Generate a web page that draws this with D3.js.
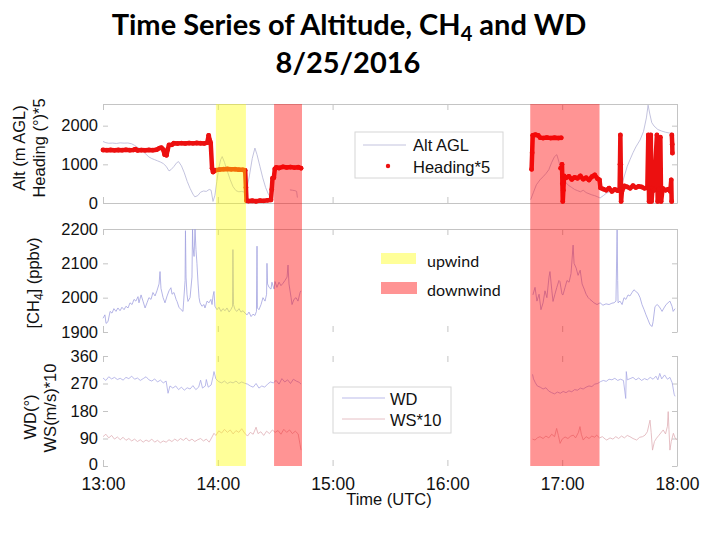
<!DOCTYPE html>
<html>
<head>
<meta charset="utf-8">
<script src="https://cdn.jsdelivr.net/npm/d3@7"></script>
<style>
	body { margin: 0; background: #fff; }
	svg { display: block; font-family: "Liberation Sans", Arial, sans-serif; }
</style>
</head>
<body>
<div id="chart-area"></div>
<script>
// times are minutes after 13:00 UTC
const hourTicks = [0, 60, 120, 180, 240, 300];
const hourLabels = ["13:00", "14:00", "15:00", "16:00", "17:00", "18:00"];
const altTicks = [0, 1000, 2000];
const ch4Ticks = [1900, 2000, 2100, 2200];
const windTicks = [0, 90, 180, 270, 360];

const upwind = [[59, 74.7]];
const downwind = [[89.4, 104], [223.3, 259.5]];

// null = gap in the record
const altAgl = [
	[0,1590],[1.5,1560],[3,1545],[5,1550],[7,1540],[9,1555],[11,1548],[13,1552],[15,1530],[16.5,1490],[18,1440],[19.5,1400],
	[21,1330],[22.5,1260],[24,1190],[25.5,1150],[27,1120],[28.5,1090],[30,1060],[31.5,1020],[33,950],[34.5,830],[35.5,860],
	[37,940],[38.5,1040],[39.5,1070],[41,960],[42.5,780],[44,560],[45.5,380],[47,230],[48,160],[49.5,190],[51,280],[52.5,310],
	[54,300],[55.5,350],[56.5,330],[57.5,40],[58.5,200],[59.5,560],[60.5,900],[61.5,1120],[62.3,1200],[63.5,1050],[65,820],
	[66.5,600],[68,420],[69.5,320],[71,290],[72.5,300],[74,280],[75,320],[76.5,700],[78,1150],[79.4,1420],[80.5,1250],[82,950],
	[83.5,650],[85,400],[86.5,220],[87.3,170], null,
	[97.7,340],[99,330],[100.3,320],[101.2,300],[101.6,140], null,
	[223.5,85],[225,280],[226.5,470],[228.4,600],[230,680],[231.5,760],[233,860],[234.5,1050],[236,1200],[237.2,1250],[238.2,1080],
	[239.2,900],[240.5,730],[242,520],[243.5,450],[245,400],[246.5,350],[248,320],[249.5,290],[251,330],[252.5,270],[254,240],
	[255.5,210],[257,190],[258.5,160],[259.8,130],[261.5,190],[263,250],[265,300],[267,360],[269,400],[271,440],[272.5,700],
	[274,950],[275.4,1116],[277,1300],[278.5,1450],[280.7,1630],[282.5,1850],[284,2200],[284.9,2530],[285.8,2300],[286.8,2080],
	[288,1990],[290,1900],[292,1860],[294,1830],[296,1810],[297.5,1800]
];

const heading = [
	[0,1370],[2,1365],[4,1372],[6,1362],[8,1370],[10,1365],[12,1374],[14,1366],[16,1372],[17,1392],[18,1360],[20,1368],[22,1362],
	[24,1372],[26,1365],[28,1378],[29.5,1420],[30.5,1430],[31.5,1380],[32.2,1250],[33.2,1235],[33.8,1380],[34.5,1500],[36,1505],
	[37,1545],[39,1538],[41,1548],[43,1540],[45,1550],[47,1542],[49,1552],[51,1545],[53,1540],[54.5,1560],[55.2,1750],[55.8,1620],
	[56.3,1550],[57,900],[57.5,800],[59,850],[61,865],[63,875],[65,880],[67,870],[69,875],[71,862],[73,858],[74.3,845],[74.7,400],
	[75,60],[76,50],[78,58],[80,45],[82,62],[84,55],[86,70],[87.8,80],[88.2,350],[88.6,640],[89.3,650],[89.8,880],[90.5,920],
	[92,905],[94,935],[96,920],[98,930],[100,915],[102,925],[103.5,900], null,
	[224,870],[224.3,1300],[224.6,1750],[226,1765],[227.5,1745],[228.5,1690],[230,1680],[232,1692],[234,1678],[236,1688],[238,1680],
	[239.5,1685], null,
	[239.2,900], null,
	[239.9,1000],[240.1,500],[240.3,40],[240.6,330],[241,700],[242,650],[243.5,690],[245,610],[246.5,665],[248,640],[249.5,700],
	[251,615],[252.5,655],[254,595],[255.5,680],[257,725],[258.5,625],[259.5,600],[260,390],[261.5,360],[263,330],[264.5,385],
	[266,300],[267.5,350],[269,320],[270,340],[270.2,1000],[270.4,1760],[270.6,1000],[270.8,40],[271.2,300],[272.5,440],[274,415],
	[275.5,380],[277,450],[278.5,400],[280,430],[281.5,415],[283,380],[284.5,400],[285,1760],[285.4,40],[285.8,400],[286.3,1760],
	[286.7,40],[287.2,380],[288,330],[289.5,1760],[289.9,40],[290.5,360],[291.3,1700],[291.7,40],[292.5,380],[294,330],[295.5,360],
	[296.5,300],[297,600],[297.2,40], null,
	[297.3,1760],[297.5,1520],[297.6,1290]
];

const ch4 = [
	[0,1940],[1,1950],[1.6,1925],[2.6,1930],[3.7,1960],[4.7,1955],[5.7,1968],[6.8,1960],[7.8,1970],[8.9,1962],[9.9,1972],[11,1965],
	[12,1975],[13.1,1970],[14.1,1985],[15.2,1980],[16.2,1995],[17.2,1990],[18.3,2003],[18.8,1985],[19.9,2008],[20.9,1990],[22,1970],
	[23,1985],[24,2000],[25.1,1995],[26.1,2015],[27.2,2005],[28.2,2020],[29.3,2040],[29.8,2076],[30.3,2027],[31.4,2000],[32.4,1985],
	[33.5,2005],[34.5,2020],[35.5,2029],[36.1,2010],[37.1,2015],[38.2,1995],[38.7,1989],[39.7,1972],[40.8,1965],[41.8,1960],
	[42.9,2050],[43.1,2195],[43.4,2060],[43.9,2010],[44.4,1989],[45.5,2000],[46.5,2060],[46.8,2200],[47,2150],[47.6,2120],[48.1,2200],
	[48.6,2140],[49.1,2100],[49.7,2040],[50.2,2000],[50.7,1985],[51.7,1975],[52.8,1980],[53.3,1970],[54.4,1990],[55.4,1985],
	[56.4,1995],[57,1980],[57.5,2005],[58,2018],[58.5,1975],[59.6,1965],[60.6,1972],[61.7,1960],[62.7,1968],[63.8,1962],[64.8,1970],
	[65.9,1958],[66.9,1966],[67.7,1975],[67.9,2140],[68.2,1980],[69,1965],[70,1960],[71.1,1968],[72.1,1958],[73.2,1962],[74.2,1955],
	[75.3,1950],[76.3,1958],[77.4,1945],[78.4,1952],[79.4,1948],[80.2,1960],[80.5,2150],[80.7,1970],[81.5,1965],[82.6,1980],
	[83.6,2000],[84.7,1990],[85.5,2010],[85.7,2100],[86,2040],[86.8,2030],[87.8,2025],[88.3,2045],[89.4,2025],[89.9,2047],[90.9,2030],
	[92,2045],[93,2035],[94.1,2042],[95.1,2050],[96.2,2060],[96.7,2095],[97.2,2040],[98.3,2000],[98.8,1980],[99.8,1995],[100.9,2000],
	[101.9,1990],[103,2015],[103.5,2020], null,
	[224.7,2008],[225.8,2030],[226.8,1990],[227.9,2010],[228.9,1965],[230,1985],[231,2020],[232,2000],[233.1,2060],[233.6,2076],
	[234.6,2020],[235.2,1989],[236.2,2010],[237.2,2030],[238.3,2050],[238.8,2047],[239.9,2010],[240.4,2008],[241.5,2030],[242.5,2050],
	[243.6,2045],[244.6,2070],[245.7,2153],[246.2,2100],[247.3,2086],[248.3,2065],[249.4,2080],[250.4,2040],[251.5,2025],[252.5,2010],
	[253.6,2000],[254.5,1995],[255.6,1990],[256.6,1985],[258.2,1980],[259.8,1985],[261.3,1978],[262.9,1982],[264.5,1980],[266,1984],
	[267.1,1985],[268.1,1990],[268.7,2197],[269,2050],[269.2,1985],[270.2,1990],[271.3,1980],[272.3,2000],[273.3,1995],[274.4,2008],
	[275.4,2005],[276.5,2015],[277.5,2023],[278.5,2018],[279.6,2013],[280.7,2000],[281.7,1980],[282.8,1965],[283.8,1950],[284.9,1935],
	[285.9,1921],[287,1916],[287.5,1930],[288.5,1974],[289.6,1980],[290.6,1975],[291.7,1965],[292.2,1960],[293.2,1970],[294.3,1980],
	[295.3,1985],[296.3,1990],[297.4,1975],[298,1960],[299,1968]
];

const wd = [
	[0,288],[1.5,280],[3,292],[4.5,285],[6,290],[7.5,283],[9,287],[10.5,281],[12,290],[13.5,286],[15,294],[16.5,284],[18,288],
	[19.5,280],[21,286],[22.5,292],[24,282],[25.5,278],[27,285],[28.5,275],[30,281],[31.5,272],[33,278],[34,238],[35,262],[36.5,255],
	[38,262],[39.5,250],[41,258],[42.5,248],[44,256],[45.5,252],[47,263],[48.5,250],[50,258],[51,281],[52,255],[53.5,262],[54,283],
	[55,258],[56.5,265],[57.5,292],[58,309],[59,285],[60.5,276],[62,272],[63.5,278],[65,270],[66.5,275],[68,272],[69.5,278],[71,270],
	[72.5,275],[74,271],[75.5,268],[77,262],[78.5,258],[80,270],[81.5,255],[83,262],[84.5,258],[86,268],[87.5,275],[89,272],
	[90.5,280],[92,268],[93.5,286],[95,275],[96.5,282],[98,270],[99.5,284],[101,278],[102.5,274],[103.5,268], null,
	[224.5,300],[225,285],[226,272],[227,262],[228.5,258],[230,252],[231.5,256],[233,245],[234.5,240],[236,236],[237.5,242],[239,238],
	[240.5,244],[242,240],[243.5,246],[245,243],[246.5,250],[248,248],[249.5,255],[251,252],[252.5,258],[254,262],[255.5,260],
	[257,268],[258.5,270],[260,276],[261.5,280],[263,277],[264.5,284],[266,282],[267.5,287],[269,280],[270.5,284],[272,280],
	[273.2,221],[273.5,309],[274,282],[275.5,286],[277,290],[278.5,282],[280,288],[281.5,280],[283,286],[284.5,282],[286,290],
	[287.5,284],[289,294],[290,282],[291,303],[292,285],[293.5,298],[295,284],[296.3,290],[297.5,272],[298.5,235],[299,228]
];

const ws = [
	[0,96],[1.5,104],[3,92],[4.5,100],[6,88],[7.5,95],[9,86],[10.5,94],[12,84],[13.5,90],[15,82],[16.5,88],[18,80],[19.5,86],[21,78],
	[22.5,85],[24,80],[25.5,88],[27,78],[28.5,84],[30,76],[31.5,82],[33,78],[34.5,86],[36,80],[37.5,88],[39,82],[40.5,90],[42,84],
	[43.5,92],[45,82],[46.5,88],[48,80],[49.5,86],[51,90],[52.5,82],[54,88],[55.5,78],[57,95],[58,107],[59,100],[60.5,115],[62,108],
	[63.5,120],[65,110],[66.5,118],[68,105],[69.5,116],[71,110],[72.5,122],[74,108],[75.5,98],[77,110],[78.5,104],[80,127],[81,106],
	[82.5,112],[84,100],[85.5,114],[87,106],[88.5,118],[90,110],[91.5,116],[93,104],[94.5,120],[96,110],[97.5,118],[99,106],
	[100.5,114],[102,105],[103,70],[103.5,52], null,
	[224.5,88],[225.8,85],[227,92],[228.4,96],[230,90],[231.5,98],[233,92],[234.5,104],[236,96],[237.1,123],[238,100],[238.9,74],
	[240,88],[241.5,95],[243,90],[244.5,98],[245.8,101],[247,92],[248.5,110],[249.3,129],[250,104],[251,85],[252.5,96],[254,90],
	[255.5,98],[257,94],[258,101],[259.5,92],[261,96],[262.5,88],[263.3,85],[265,92],[266.5,88],[268,96],[269.5,90],[271,98],
	[272.5,92],[274,100],[275.4,96],[277,90],[278.9,85],[280.5,94],[282,96],[283.3,101],[284.5,112],[285.9,150],[286.5,110],
	[287.2,52],[288.2,80],[289.3,91],[290.5,100],[291.5,108],[292.8,118],[294,105],[295,130],[295.4,178],[295.8,120],[296.3,52],
	[297,80],[298.1,107],[299,92],[299.9,85]
];

const width = 720;
const height = 540;

let svg = d3.select("#chart-area")
	.append("svg")
		.attr("width", width)
		.attr("height", height);

let x = d3.scaleLinear().domain([0, 300]).range([103, 677]);
let yAlt = d3.scaleLinear().domain([0, 2560]).range([203, 104]);
let yCh4 = d3.scaleLinear().domain([1900, 2200]).range([332, 229]);
let yWind = d3.scaleLinear().domain([0, 360]).range([466, 356]);

const frameColor = "#c4c4c4";

const styleAxis = (g, keepDomain) => {
	g.attr("font-family", null).attr("font-size", null);
	g.selectAll("line").attr("stroke", frameColor);
	g.select(".domain").attr("stroke", frameColor);
	if (!keepDomain) g.select(".domain").remove();
	g.selectAll("text").attr("fill", "#111").style("font-size", "16.5px");
};

// one panel: left labels, right ticks, top/bottom ticks
const panel = (y, ticks, topLine, bottomLine) => {
	svg.append("g")
		.attr("transform", "translate(" + x(0) + ",0)")
		.call(d3.axisLeft(y).tickValues(ticks).tickSize(-5).tickPadding(5).tickFormat(d3.format("d")))
		.call(g => styleAxis(g, false));
	svg.append("g")
		.attr("transform", "translate(" + x(300) + ",0)")
		.call(d3.axisRight(y).tickValues(ticks).tickSize(-5).tickSizeOuter(0).tickFormat(""))
		.call(g => styleAxis(g, true));
	svg.append("g")
		.attr("transform", "translate(0," + y.range()[1] + ")")
		.call(d3.axisTop(x).tickValues(hourTicks).tickSize(-6).tickSizeOuter(0).tickFormat(""))
		.call(g => styleAxis(g, topLine));
	svg.append("g")
		.attr("transform", "translate(0," + y.range()[0] + ")")
		.call(d3.axisBottom(x).tickValues(hourTicks).tickSize(-6).tickSizeOuter(0).tickFormat(""))
		.call(g => styleAxis(g, bottomLine));
};

panel(yAlt, altTicks, true, true);
panel(yCh4, ch4Ticks, true, false);
panel(yWind, windTicks, false, false);

// the lowest "0" sits just above the time labels
svg.selectAll(".tick text")
	.filter(function(d) { return d === 0 && this.getAttribute("x") < 0 && this.closest("g.tick").getAttribute("transform").indexOf(",466") > 0; })
	.attr("dy", "0.2em");

// X axis labels
svg.append("g")
	.attr("transform", "translate(0," + yWind.range()[0] + ")")
	.call(d3.axisBottom(x).tickValues(hourTicks).tickSize(0).tickPadding(11.5).tickFormat((d, i) => hourLabels[i]))
	.call(g => styleAxis(g, false))
	.call(g => g.selectAll("text").style("font-size", "17.5px"));

svg.append("text")
	.attr("x", 389)
	.attr("y", 505)
	.attr("text-anchor", "middle")
	.attr("font-size", "16.5px")
	.attr("fill", "#111")
	.text("Time (UTC)");

// series
const drawLine = (data, y, color, w) => {
	svg.append("path")
		.datum(data)
		.attr("fill", "none")
		.attr("stroke", color)
		.attr("stroke-width", w)
		.attr("stroke-linejoin", "round")
		.attr("d", d3.line().defined(d => d).x(d => x(d[0])).y(d => y(d[1])));
};

const altColor = "#b4b4d6";
const ch4Color = "#a2a2e0";
const wdColor = "#a9a9e4";
const wsColor = "#e0b0b6";
const headColor = "#ec1010";

drawLine(altAgl, yAlt, altColor, 0.8);
drawLine(ch4, yCh4, ch4Color, 0.8);
drawLine(wd, yWind, wdColor, 0.8);
drawLine(ws, yWind, wsColor, 0.8);

svg.append("path")
	.datum(heading)
	.attr("fill", "none")
	.attr("stroke", headColor)
	.attr("stroke-width", 4.5)
	.attr("stroke-linejoin", "round")
	.attr("stroke-linecap", "round")
	.attr("d", d3.line().defined(d => d).x(d => x(d[0])).y(d => yAlt(d[1])));

svg.append("g")
	.selectAll("circle")
	.data(heading.filter(d => d))
	.enter()
	.append("circle")
		.attr("cx", d => x(d[0]))
		.attr("cy", d => yAlt(d[1]))
		.attr("r", 2.4)
		.attr("fill", headColor);

// shaded flight legs, drawn over the data
svg.append("g")
	.selectAll("rect")
	.data(upwind)
	.enter()
	.append("rect")
		.attr("x", d => x(d[0]))
		.attr("width", d => x(d[1]) - x(d[0]))
		.attr("y", yAlt.range()[1])
		.attr("height", yWind.range()[0] - yAlt.range()[1])
		.attr("fill", "#ffff00")
		.attr("fill-opacity", 0.4);

svg.append("g")
	.selectAll("rect")
	.data(downwind)
	.enter()
	.append("rect")
		.attr("x", d => x(d[0]))
		.attr("width", d => x(d[1]) - x(d[0]))
		.attr("y", yAlt.range()[1])
		.attr("height", yWind.range()[0] - yAlt.range()[1])
		.attr("fill", "#ff0000")
		.attr("fill-opacity", 0.42);

// Legends
let legTop = svg.append("g");
legTop.append("rect")
	.attr("x", 355).attr("y", 132).attr("width", 148).attr("height", 46)
	.attr("fill", "#fff").attr("stroke", "#d6d6d6");
legTop.append("line")
	.attr("x1", 363).attr("x2", 406).attr("y1", 145).attr("y2", 145)
	.attr("stroke", altColor).attr("stroke-width", 0.8);
legTop.append("text")
	.attr("x", 413).attr("y", 151).attr("font-size", "16.5px").attr("fill", "#111")
	.text("Alt AGL");
legTop.append("circle")
	.attr("cx", 388).attr("cy", 166).attr("r", 2.2).attr("fill", headColor);
legTop.append("text")
	.attr("x", 413).attr("y", 173).attr("font-size", "16.5px").attr("fill", "#111")
	.text("Heading*5");

let legMid = svg.append("g").attr("font-family", "Lato, 'Open Sans', sans-serif");
legMid.append("rect")
	.attr("x", 381).attr("y", 253).attr("width", 35).attr("height", 11)
	.attr("fill", "#ffff00").attr("fill-opacity", 0.4);
legMid.append("rect")
	.attr("x", 381).attr("y", 282).attr("width", 36).attr("height", 12)
	.attr("fill", "#ff0000").attr("fill-opacity", 0.42);
legMid.append("text")
	.attr("x", 427).attr("y", 266.5).attr("font-size", "16px").attr("fill", "#111")
	.text("upwind");
legMid.append("text")
	.attr("x", 427).attr("y", 296).attr("font-size", "16px").attr("fill", "#111")
	.text("downwind");

let legBot = svg.append("g");
legBot.append("rect")
	.attr("x", 333).attr("y", 387).attr("width", 118).attr("height", 46)
	.attr("fill", "#fff").attr("stroke", "#d6d6d6");
legBot.append("line")
	.attr("x1", 342).attr("x2", 385).attr("y1", 398).attr("y2", 398)
	.attr("stroke", wdColor).attr("stroke-width", 0.8);
legBot.append("text")
	.attr("x", 390).attr("y", 404.5).attr("font-size", "16.5px").attr("fill", "#111")
	.text("WD");
legBot.append("line")
	.attr("x1", 342).attr("x2", 385).attr("y1", 419).attr("y2", 419)
	.attr("stroke", wsColor).attr("stroke-width", 0.8);
legBot.append("text")
	.attr("x", 390).attr("y", 426).attr("font-size", "16.5px").attr("fill", "#111")
	.text("WS*10");

// Y Labels
const yLabel = (cx, cy, parts) => {
	let t = svg.append("text")
		.attr("transform", "translate(" + cx + "," + cy + ") rotate(-90)")
		.attr("text-anchor", "middle")
		.attr("font-size", "16.5px")
		.attr("fill", "#111");
	parts.forEach(p => {
		t.append("tspan")
			.attr("dy", p.dy || 0)
			.attr("font-size", p.size || null)
			.text(p.text);
	});
};

yLabel(25, 148, [{text: "Alt (m AGL)"}]);
yLabel(45, 148, [{text: "Heading (°)*5"}]);
yLabel(39, 283, [{text: "[CH"}, {text: "4", size: "12px", dy: 4}, {text: "] (ppbv)", dy: -4}]);
yLabel(36, 417, [{text: "WD(°)"}]);
yLabel(56, 408, [{text: "WS(m/s)*10"}]);

// Title
let title = svg.append("g")
	.attr("font-family", "Lato, 'Open Sans', sans-serif")
	.attr("font-weight", "bold")
	.attr("text-anchor", "middle")
	.attr("fill", "#000");
let line1 = title.append("text")
	.attr("x", 349)
	.attr("y", 35)
	.attr("font-size", "29px");
line1.append("tspan").text("Time Series of Altitude, CH");
line1.append("tspan").attr("font-size", "20px").attr("dy", 6).text("4");
line1.append("tspan").attr("dy", -6).text(" and WD");
title.append("text")
	.attr("x", 348)
	.attr("y", 73)
	.attr("font-size", "29px")
	.text("8/25/2016");
</script>
</body>
</html>
